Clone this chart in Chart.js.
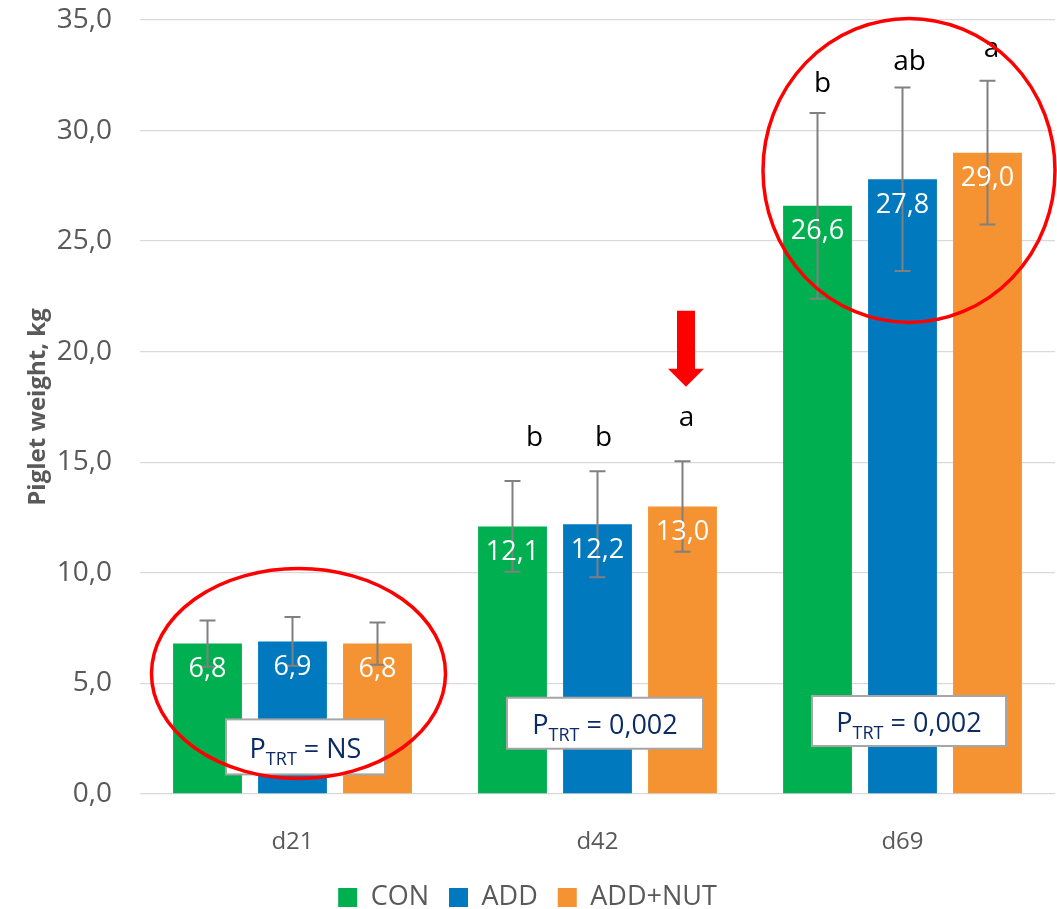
<!DOCTYPE html>
<html>
<head>
<meta charset="utf-8">
<script src="https://cdn.jsdelivr.net/npm/chart.js@4.4.1/dist/chart.umd.min.js"></script>
<style>
  html, body { margin: 0; padding: 0; background: #ffffff; }
  canvas { display: block; }
</style>
</head>
<body>
<canvas id="chart" width="1057" height="909"></canvas>
<script>
// Piglet body weight by treatment and day
const days = ['d21', 'd42', 'd69'];
const seriesNames = ['CON', 'ADD', 'ADD+NUT'];
const conWeight = [6.8, 12.1, 26.6];
const addWeight = [6.9, 12.2, 27.8];
const nutWeight = [6.8, 13.0, 29.0];
const conSD = [1.05, 2.05, 4.2];
const addSD = [1.1, 2.4, 4.15];
const nutSD = [0.95, 2.05, 3.25];
const conLetters = ['', 'b', 'b'];
const addLetters = ['', 'b', 'ab'];
const nutLetters = ['', 'a', 'a'];
const pTrt = ['NS', '0,002', '0,002'];
const yTicks = [0, 5, 10, 15, 20, 25, 30, 35];

const FONT = "'Open Sans', 'Noto Sans', sans-serif";
const colors = ['#00B050', '#0079BF', '#F59232'];
const fmt = v => v.toFixed(1).replace('.', ',');

// hand placement of the letters / boxes / highlight marks
const letterNudge = [ // [dx, lift above error cap] per series, per day
  [[0, 30], [22, 43], [5, 29]],
  [[0, 30], [6, 33], [7, 25]],
  [[0, 30], [4, 43], [4, 32]]
];
const pBoxes = [ // per day: dx from category centre, centre value, w, h
  { dx: 13, v: 2.13, w: 159, h: 55 },
  { dx: 7.5, v: 3.2, w: 196, h: 51 },
  { dx: 6.5, v: 3.3, w: 194, h: 50 }
];
const rings = [ // day index, dx, centre value, rx, ry
  { day: 0, dx: 6, v: 5.45, rx: 147, ry: 105 },
  { day: 2, dx: 6.5, v: 28.2, rx: 146, ry: 152 }
];
const arrowMark = { day: 1, series: 2, dx: 3.5, from: 21.85, to: 18.42 };

const overlay = {
  id: 'overlay',
  afterDatasetsDraw(chart) {
    const ctx = chart.ctx;
    const ys = chart.scales.y, xs = chart.scales.x;
    const sds = [conSD, addSD, nutSD];
    const letters = [conLetters, addLetters, nutLetters];

    // error bars
    ctx.save();
    ctx.strokeStyle = '#808080';
    ctx.lineWidth = 2;
    chart.data.datasets.forEach((ds, i) => {
      chart.getDatasetMeta(i).data.forEach((bar, j) => {
        const v = ds.data[j], sd = sds[i][j];
        const t = ys.getPixelForValue(v + sd), b = ys.getPixelForValue(v - sd);
        ctx.beginPath();
        ctx.moveTo(bar.x, t); ctx.lineTo(bar.x, b);
        ctx.moveTo(bar.x - 8, t); ctx.lineTo(bar.x + 8, t);
        ctx.moveTo(bar.x - 8, b); ctx.lineTo(bar.x + 8, b);
        ctx.stroke();
      });
    });
    ctx.restore();

    // value labels and significance letters
    ctx.save();
    ctx.textAlign = 'center';
    ctx.textBaseline = 'middle';
    chart.data.datasets.forEach((ds, i) => {
      chart.getDatasetMeta(i).data.forEach((bar, j) => {
        const v = ds.data[j];
        ctx.font = `27px ${FONT}`;
        ctx.fillStyle = '#ffffff';
        ctx.fillText(fmt(v), bar.x, ys.getPixelForValue(v) + 26);
        const L = letters[i][j];
        if (L) {
          const [dx, lift] = letterNudge[i][j];
          ctx.fillStyle = '#000000';
          ctx.font = `28px ${FONT}`;
          ctx.fillText(L, bar.x + dx, ys.getPixelForValue(v + sds[i][j]) - lift);
        }
      });
    });
    ctx.restore();

    // P-value boxes
    pBoxes.forEach((pb, d) => {
      const cx = xs.getPixelForValue(d) + pb.dx;
      const cy = ys.getPixelForValue(pb.v);
      ctx.save();
      ctx.fillStyle = '#ffffff';
      ctx.strokeStyle = '#A6A6A6';
      ctx.lineWidth = 2;
      ctx.fillRect(cx - pb.w / 2, cy - pb.h / 2, pb.w, pb.h);
      ctx.strokeRect(cx - pb.w / 2, cy - pb.h / 2, pb.w, pb.h);
      const big = `27px ${FONT}`, small = `18px ${FONT}`;
      const rest = ' = ' + pTrt[d];
      ctx.font = big; const wP = ctx.measureText('P').width; const wR = ctx.measureText(rest).width;
      ctx.font = small; const wS = ctx.measureText('TRT').width;
      let x0 = cx - (wP + wS + wR) / 2;
      const base = cy + 11;
      ctx.fillStyle = '#0B2A66';
      ctx.textBaseline = 'alphabetic';
      ctx.textAlign = 'left';
      ctx.font = big; ctx.fillText('P', x0, base); x0 += wP;
      ctx.font = small; ctx.fillText('TRT', x0, base + 7); x0 += wS;
      ctx.font = big; ctx.fillText(rest, x0, base);
      ctx.restore();
    });

    // red highlight rings
    ctx.save();
    ctx.strokeStyle = '#FF0000';
    ctx.lineWidth = 3.5;
    rings.forEach(r => {
      ctx.beginPath();
      ctx.ellipse(xs.getPixelForValue(r.day) + r.dx, ys.getPixelForValue(r.v), r.rx, r.ry, 0, 0, Math.PI * 2);
      ctx.stroke();
    });
    ctx.restore();

    // red arrow
    const bar = chart.getDatasetMeta(arrowMark.series).data[arrowMark.day];
    const ax = bar.x + arrowMark.dx;
    const aTop = ys.getPixelForValue(arrowMark.from), aTip = ys.getPixelForValue(arrowMark.to);
    const headStart = aTip - 18;
    ctx.save();
    ctx.fillStyle = '#FF0000';
    ctx.beginPath();
    ctx.moveTo(ax - 9, aTop); ctx.lineTo(ax + 9, aTop); ctx.lineTo(ax + 9, headStart);
    ctx.lineTo(ax + 18, headStart); ctx.lineTo(ax, aTip); ctx.lineTo(ax - 18, headStart);
    ctx.lineTo(ax - 9, headStart); ctx.closePath();
    ctx.fill();
    ctx.restore();
  }
};

new Chart(document.getElementById('chart'), {
  type: 'bar',
  data: {
    labels: days,
    datasets: [
      { label: seriesNames[0], data: conWeight, backgroundColor: colors[0] },
      { label: seriesNames[1], data: addWeight, backgroundColor: colors[1] },
      { label: seriesNames[2], data: nutWeight, backgroundColor: colors[2] }
    ]
  },
  options: {
    responsive: false,
    animation: false,
    devicePixelRatio: 1,
    datasets: { bar: { categoryPercentage: 0.836, barPercentage: 0.81 } },
    layout: { padding: { top: 20, right: 2, left: 0, bottom: -12 } },
    plugins: {
      tooltip: { enabled: false },
      legend: {
        position: 'bottom',
        labels: {
          boxWidth: 19, boxHeight: 19, padding: 20,
          color: '#595959',
          font: { family: FONT, size: 27 }
        }
      }
    },
    scales: {
      x: {
        grid: { display: false },
        border: { display: false },
        ticks: { color: '#595959', font: { family: FONT, size: 24 }, padding: 26 },
        afterFit(s) { s.height = 70; }
      },
      y: {
        min: 0, max: 35,
        afterBuildTicks(s) { s.ticks = yTicks.map(v => ({ value: v })); },
        ticks: { color: '#595959', font: { family: FONT, size: 28 }, padding: 0, callback: v => fmt(v) },
        grid: { color: '#D9D9D9', lineWidth: 1.3, drawTicks: true, tickLength: 28, tickColor: 'rgba(0,0,0,0)' },
        border: { display: false },
        title: {
          display: true, text: 'Piglet weight, kg', color: '#595959',
          font: { family: FONT, size: 24, weight: 'bold' },
          padding: { top: 24, bottom: 0 }
        },
        afterFit(s) { s.width = 140; }
      }
    }
  },
  plugins: [overlay]
});
</script>
</body>
</html>
